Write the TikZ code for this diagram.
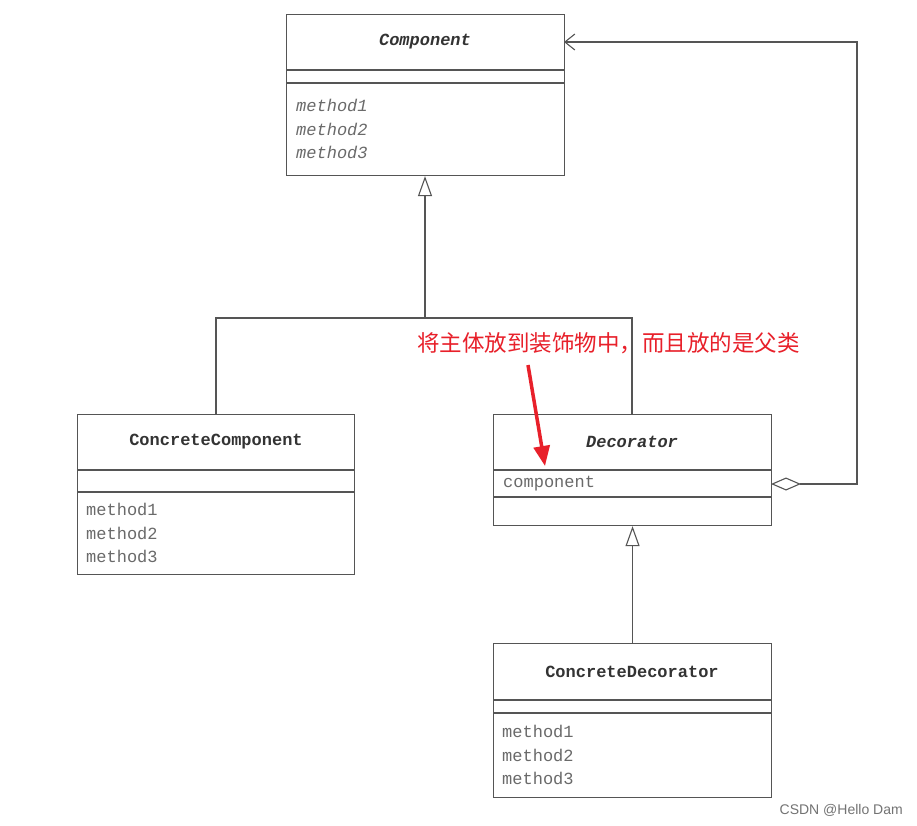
\documentclass[tikz,border=0pt]{standalone}
\usepackage{fontspec}
\setmainfont{Liberation Mono}
\newfontfamily\cjkfont{Noto Sans CJK SC}
\newfontfamily\wmfont{Liberation Sans}
\usetikzlibrary{arrows.meta}
\definecolor{linec}{HTML}{555555}
\definecolor{namec}{HTML}{333333}
\definecolor{memc}{HTML}{6A6A6A}
\definecolor{redc}{HTML}{E8202A}
\tikzset{
  classbox/.style={draw=linec, line width=1.1pt, rectangle, anchor=north west, inner sep=0pt},
  sep/.style={draw=linec, line width=1.1pt},
  conn/.style={draw=linec, line width=1.1pt},
  cname/.style={font=\fontsize{17}{17}\selectfont\bfseries, text=namec, inner sep=0pt},
  aname/.style={font=\fontsize{17}{17}\selectfont\bfseries\itshape, text=namec, inner sep=0pt},
  member/.style={font=\fontsize{17}{23.5}\selectfont, text=memc, anchor=west, inner sep=0pt, align=left},
  amember/.style={font=\fontsize{17}{23.5}\selectfont\itshape, text=memc, anchor=west, inner sep=0pt, align=left},
  inherit/.style={conn, -{Triangle[open, length=20pt, width=14pt]}},
}
\begin{document}
\begin{tikzpicture}[x=1pt, y=-1pt]
\useasboundingbox (0,0) rectangle (917,825);
\fill[white] (0,0) rectangle (917,825);

% Component
\node[classbox, minimum width=278pt, minimum height=161pt] (comp) at (286,14) {};
\draw[sep] (286,70) -- (564,70);
\draw[sep] (286,83) -- (564,83);
\node[aname] (compn) at (425,42) {Component};
\node[amember] (compm) at (296,129) {method1\\method2\\method3};

% ConcreteComponent
\node[classbox, minimum width=277pt, minimum height=160pt] (cc) at (77,414) {};
\draw[sep] (77,470) -- (354,470);
\draw[sep] (77,492) -- (354,492);
\node[cname] (ccn) at (216,442) {ConcreteComponent};
\node[member] (ccm) at (86,533) {method1\\method2\\method3};

% Decorator
\node[classbox, minimum width=278pt, minimum height=111pt] (dec) at (493,414) {};
\draw[sep] (493,470) -- (771,470);
\draw[sep] (493,497) -- (771,497);
\node[aname] (decn) at (632,442) {Decorator};
\node[member] (decm) at (503,484) {component};

% ConcreteDecorator
\node[classbox, minimum width=278pt, minimum height=154pt] (cd) at (493,643) {};
\draw[sep] (493,700) -- (771,700);
\draw[sep] (493,713) -- (771,713);
\node[cname] (cdn) at (632,672) {ConcreteDecorator};
\node[member] (cdm) at (502,755) {method1\\method2\\method3};

% inheritance: Component <- ConcreteComponent, Decorator
\coordinate (junc) at (425,318);
\coordinate (jl) at (216,318);
\coordinate (jr) at (632,318);
\draw[inherit] (junc) -- (comp.south -| junc);
\draw[conn] (cc.north -| jl) -- (jl) -- (jr) -- (dec.north -| jr);

% Decorator <- ConcreteDecorator
\draw[inherit] (cd.north) -- (dec.south);

% aggregation Decorator -> Component
\coordinate (agg) at (771,484);
\coordinate (ar) at (857,484);
\coordinate (at) at (857,42);
\coordinate (ct) at (564,42);
\draw[conn, {Diamond[open, length=30pt, width=13pt]}-{Straight Barb[length=10pt, width=16pt]}]
  (agg) -- (ar) -- (at) -- (ct);

% annotation
\node[font=\cjkfont\fontsize{22.5}{22.5}\selectfont, text=redc, inner sep=0pt, anchor=west] (note) at (417,343) {将主体放到装饰物中，而且放的是父类};
\coordinate (rs) at (528,365);
\coordinate (re) at (545,466);
\draw[redc, line width=3.5pt, -{Triangle[length=20pt, width=16pt]}] (rs) -- (re);

% watermark
\node[font=\wmfont\fontsize{14}{14}\selectfont, text=black!55, inner sep=0pt, anchor=east] (wm) at (903,810) {CSDN @Hello Dam};
\end{tikzpicture}
\end{document}
